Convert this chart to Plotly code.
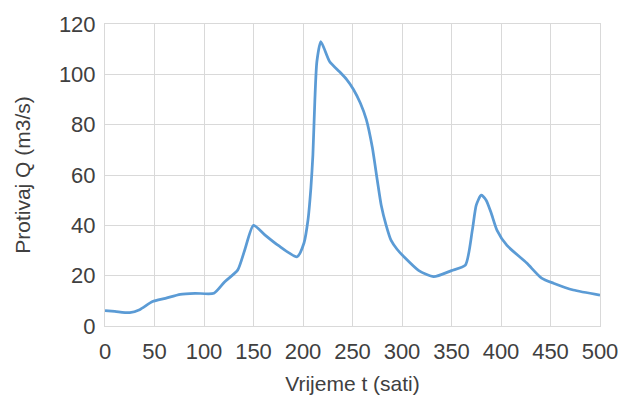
import plotly.graph_objects as go

# time (hours)
t_hours = [0, 10, 25, 35, 48, 61, 76, 91, 110, 121, 134, 141, 150, 162, 175, 194,
           201, 205, 208, 210, 212, 214, 218, 227, 237, 244, 251, 258, 264, 270, 275, 279,
           284, 289, 295, 302, 317, 332, 350, 364, 371, 375, 380, 385, 390, 396, 406,
           426, 441, 453, 473, 500]
# discharge Q (m3/s)
q_values = [6.1, 5.8, 5.3, 6.5, 9.7, 11, 12.6, 13, 13, 17.6, 22.2, 30, 40, 36, 32, 27.5,
            33, 42, 55, 68, 90, 105, 113, 105, 101, 98, 94, 88.5, 82, 71, 58, 48,
            40, 34, 30.5, 27.5, 22, 19.6, 22, 24.2, 38, 48, 52, 50, 45, 38, 32,
            25, 19, 17, 14.3, 12.3]

x_ticks = [0, 50, 100, 150, 200, 250, 300, 350, 400, 450, 500]
y_ticks = [0, 20, 40, 60, 80, 100, 120]

fig = go.Figure()
fig.add_trace(go.Scatter(
    x=t_hours, y=q_values, mode="lines",
    line=dict(color="#5b9bd5", width=2.75, shape="spline", smoothing=0.6),
    showlegend=False,
))

font_family = "Liberation Sans, Arial, sans-serif"
fig.update_layout(
    width=630, height=408,
    margin=dict(l=105, r=23, t=24, b=82),
    paper_bgcolor="white", plot_bgcolor="white",
    font=dict(family=font_family, color="#404040", size=22),
)
fig.update_xaxes(
    range=[0, 500], tickvals=x_ticks, ticktext=[str(v) for v in x_ticks],
    showgrid=True, gridcolor="#d9d9d9", gridwidth=1,
    showline=True, linecolor="#d9d9d9", linewidth=1, mirror=True,
    zeroline=False, ticks="", tickfont=dict(size=22), ticklabelstandoff=6,
    title=dict(text="Vrijeme t (sati)", font=dict(size=21), standoff=12),
)
fig.update_yaxes(
    range=[0, 120], tickvals=y_ticks, ticktext=[str(v) for v in y_ticks],
    showgrid=True, gridcolor="#d9d9d9", gridwidth=1,
    showline=True, linecolor="#d9d9d9", linewidth=1, mirror=True,
    zeroline=False, ticks="", tickfont=dict(size=22), ticklabelstandoff=4,
    title=dict(text="Protivaj Q (m3/s)", font=dict(size=21), standoff=22),
)

fig.write_html("out.html")
